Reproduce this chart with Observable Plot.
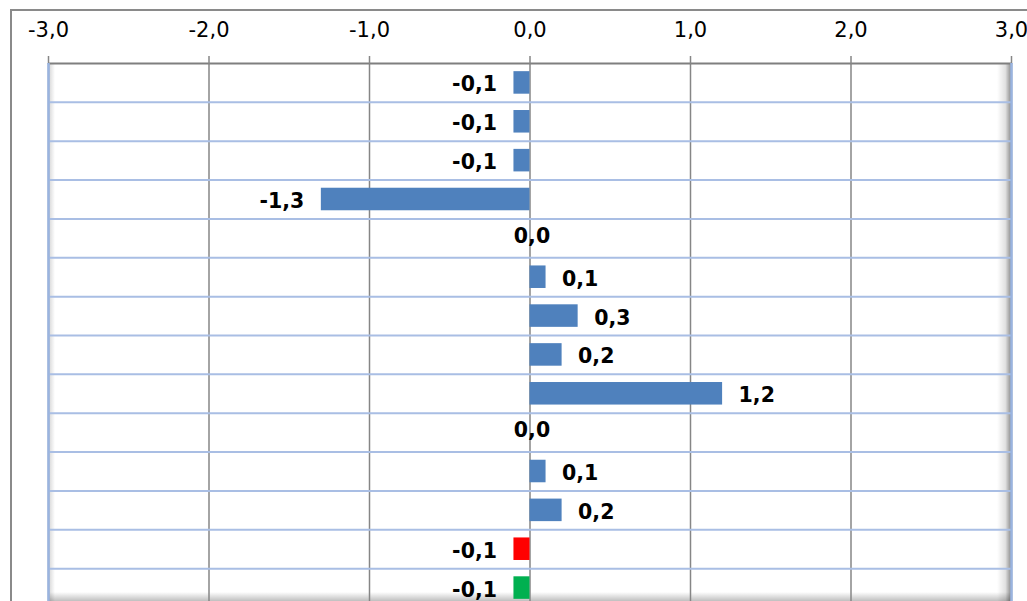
<!DOCTYPE html>
<html>
<head>
<meta charset="utf-8">
<script src="https://cdn.jsdelivr.net/npm/d3@7"></script>
<script src="https://cdn.jsdelivr.net/npm/@observablehq/plot@0.6"></script>
<style>
  html, body { margin: 0; padding: 0; background: #fff; overflow: hidden; }
  #wrap { position: relative; width: 1027px; height: 601px; overflow: hidden; }
  #frame { position: absolute; left: 10px; top: 9px; width: 1200px; height: 800px;
           border-left: 2px solid #8a8a8a; border-top: 2px solid #8a8a8a; pointer-events: none; }
  #chart { position: absolute; left: 0; top: 0; }
</style>
</head>
<body>
<div id="wrap"><div id="chart"></div><div id="frame"></div></div>
<script>
// ---- data ----
const values = [-0.1, -0.1, -0.1, -1.3, 0.0, 0.1, 0.3, 0.2, 1.2, 0.0, 0.1, 0.2, -0.1, -0.1];
const colors = ["#4f81bd", "#4f81bd", "#4f81bd", "#4f81bd", "#4f81bd", "#4f81bd", "#4f81bd",
                "#4f81bd", "#4f81bd", "#4f81bd", "#4f81bd", "#4f81bd", "#ff0000", "#00b050"];
const xTicks = [-3, -2, -1, 0, 1, 2, 3];

const fmt = d => d.toFixed(1).replace(".", ",").replace("-0,0", "0,0");
const rows = values.map((v, i) => ({i, v, color: colors[i], label: fmt(v)}));
const nRows = rows.length;
const barPad = 0.21;

const chart = Plot.plot({
  width: 1027,
  height: 620,
  marginLeft: 48,
  marginRight: 16,
  marginTop: 63,
  marginBottom: 13,
  style: {fontFamily: "DejaVu Sans", fontSize: "20px", color: "#000", background: "transparent", overflow: "visible"},
  x: {domain: [xTicks[0], xTicks[xTicks.length - 1]], label: null},
  y: {domain: [0, nRows], reverse: true, axis: null, label: null},
  color: {type: "identity"},
  marks: [
    Plot.gridX(xTicks, {stroke: "#868686", strokeOpacity: 1, strokeWidth: 1.5}),
    Plot.ruleY(d3.range(1, nRows + 1), {stroke: "#a9bee4", strokeWidth: 2}),
    Plot.ruleY([0], {stroke: "#7f7f7f", strokeWidth: 2}),
    Plot.axisX(xTicks, {anchor: "top", tickSize: 8, tickPadding: 19, tickFormat: fmt, label: null,
      fontSize: 21, stroke: "#868686", strokeWidth: 1.5, fill: "#000"}),
    Plot.ruleX([xTicks[0], xTicks[xTicks.length - 1]], {stroke: "#9ab4e0", strokeWidth: 2.5}),
    Plot.rectX(rows, {x1: 0, x2: "v", y1: d => d.i + barPad, y2: d => d.i + 1 - barPad, fill: "color"}),
    Plot.text(rows.filter(d => d.v < 0), {x: "v", y: d => d.i + 0.5, text: "label",
      textAnchor: "end", dx: -17, dy: 2, fontWeight: "bold", fontSize: 20.5, fill: "#000"}),
    Plot.text(rows.filter(d => d.v > 0), {x: "v", y: d => d.i + 0.5, text: "label",
      textAnchor: "start", dx: 16, dy: 2, fontWeight: "bold", fontSize: 20.5, fill: "#000"}),
    Plot.text(rows.filter(d => d.v === 0), {x: "v", y: d => d.i + 0.5, text: "label",
      textAnchor: "middle", dx: 2, dy: -2, fontWeight: "bold", fontSize: 20.5, fill: "#000"})
  ]
});

// plot-area edge shading (decoration, placed via the chart's own scales)
const sx = chart.scale("x"), sy = chart.scale("y");
const xL = sx.apply(xTicks[0]), xR = sx.apply(xTicks[xTicks.length - 1]);
const yT = sy.apply(0), yB = sy.apply(nRows);
const svg = d3.select(chart);
const defs = svg.insert("defs", ":first-child");
const mk = (id, x1, y1, x2, y2, stops) => {
  const g = defs.append("linearGradient").attr("id", id)
    .attr("x1", x1).attr("y1", y1).attr("x2", x2).attr("y2", y2);
  stops.forEach(([o, c, a]) => g.append("stop").attr("offset", o).attr("stop-color", c).attr("stop-opacity", a));
};
mk("shL", 0, 0, 1, 0, [[0, "#000", 0.18], [1, "#000", 0]]);
mk("shR", 0, 0, 1, 0, [[0, "#000", 0], [0.6, "#000", 0.12], [1, "#000", 0.45]]);
mk("shB", 0, 0, 0, 1, [[0, "#000", 0], [1, "#000", 0.25]]);
const shade = svg.insert("g", "defs + *");
shade.append("rect").attr("x", xL).attr("y", yT).attr("width", 7).attr("height", yB - yT).attr("fill", "url(#shL)");
shade.append("rect").attr("x", xR - 14).attr("y", yT).attr("width", 14).attr("height", yB - yT).attr("fill", "url(#shR)");
shade.append("rect").attr("x", xL).attr("y", 592).attr("width", xR - xL).attr("height", 9).attr("fill", "url(#shB)");

document.getElementById("chart").appendChild(chart);
</script>
</body>
</html>
